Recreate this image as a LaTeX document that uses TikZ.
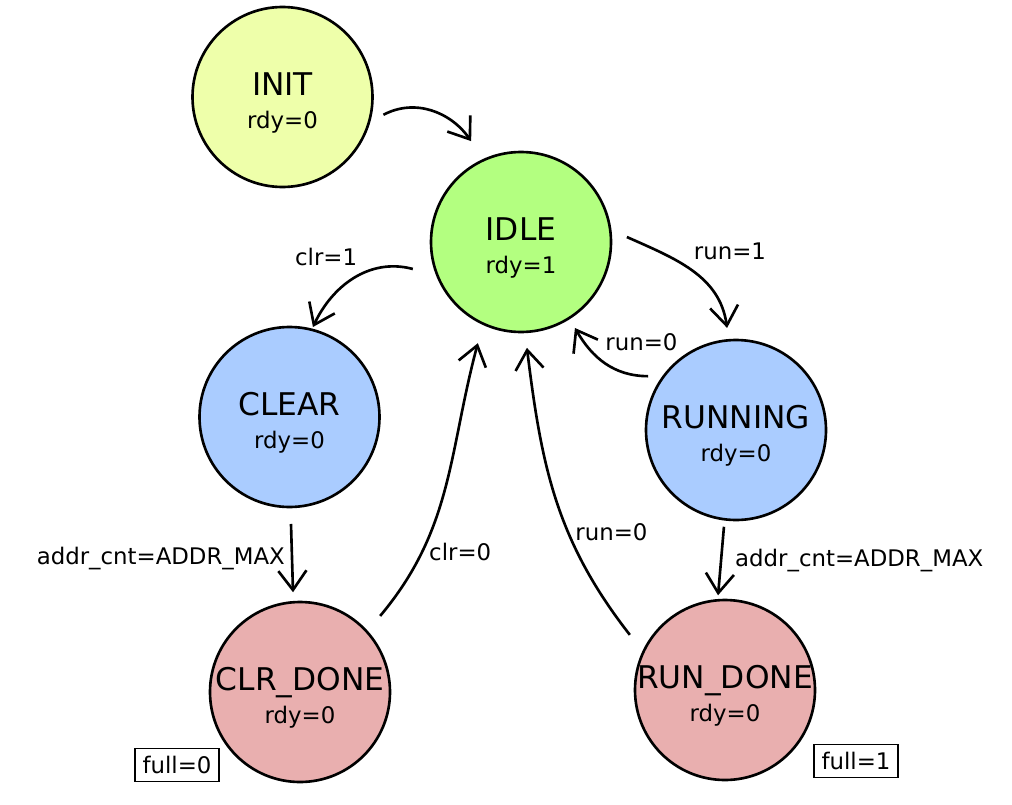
\documentclass[tikz,border=0pt]{standalone}
\usepackage{fontspec}
\setmainfont{DejaVu Sans}
\usetikzlibrary{arrows.meta}

\definecolor{initfill}{RGB}{238,255,170}
\definecolor{idlefill}{RGB}{179,255,128}
\definecolor{busyfill}{RGB}{170,204,255}
\definecolor{donefill}{RGB}{233,175,175}

% state name on top, output below
\newcommand{\stname}[2]{\rule{0pt}{19.5pt}\makebox[3cm]{\fontsize{17.8}{19}\selectfont #1}\\#2}

\begin{document}
\begin{tikzpicture}
[st/.style={circle,draw,line width=1.5pt,minimum size=3.6cm,inner sep=0pt,align=center,font=\fontsize{13}{18.5}\selectfont}
,tr/.style={draw=black,line width=1.5pt,arrows={-Straight Barb[length=11pt,width=16pt]}}
,lbl/.style={font=\fontsize{13}{15}\selectfont}
,flag/.style={draw,line width=0.6pt,font=\fontsize{13}{15}\selectfont,minimum width=1.68cm,minimum height=0.66cm,inner sep=2pt}]
\useasboundingbox (0,0) rectangle (20.24,-16.08);
\node[st,fill=initfill] (init) at (5.65,-1.94) {\stname{INIT}{rdy=0}};
\node[st,fill=idlefill] (idle) at (10.42,-4.84) {\stname{IDLE}{rdy=1}};
\node[st,fill=busyfill] (clear) at (5.79,-8.34) {\stname{CLEAR}{rdy=0}};
\node[st,fill=busyfill] (running) at (14.72,-8.60) {\stname{RUNNING}{rdy=0}};
\node[st,fill=donefill] (clrdone) at (6.00,-13.84) {\stname{CLR\_DONE}{rdy=0}};
\node[st,fill=donefill] (rundone) at (14.50,-13.80) {\stname{RUN\_DONE}{rdy=0}};
\node[flag] (fullclr) at (3.54,-15.30) {full=0};
\node[flag] (fullrun) at (17.12,-15.22) {full=1};
\draw[tr] ([shift={(-10:2.05)}]init.center) to[out=28,in=125] ([shift={(116.3:2.25)}]idle.center);
\draw[tr] ([shift={(194:2.23)}]idle.center) to[out=165,in=65] node[lbl,pos=0.4,above left]{clr=1} ([shift={(75.4:1.86)}]clear.center);
\draw[tr] ([shift={(2.7:2.12)}]idle.center) to[out=-24,in=98] node[lbl,pos=0.45,above right]{run=1} ([shift={(95:2.05)}]running.center);
\draw[tr] ([shift={(148.5:2.06)}]running.center) to[out=180,in=-60] node[lbl,pos=0.6,above right]{run=0} ([shift={(-57.9:2.03)}]idle.center);
\draw[tr] ([shift={(-89.2:2.14)}]clear.center) -- node[lbl,left]{addr\_cnt=ADDR\_MAX} ([shift={(94:2.0)}]clrdone.center);
\draw[tr] ([shift={(-97.1:1.95)}]running.center) -- node[lbl,right,xshift=4pt]{addr\_cnt=ADDR\_MAX} ([shift={(94.2:1.9)}]rundone.center);
\draw[tr] ([shift={(43.5:2.21)}]clrdone.center) to[out=50,in=255] node[lbl,pos=0.25,right]{clr=0} ([shift={(246.9:2.2)}]idle.center);
\draw[tr] ([shift={(149.9:2.2)}]rundone.center) to[out=128,in=-83] node[lbl,pos=0.38,right]{run=0} ([shift={(-86.8:2.12)}]idle.center);
\end{tikzpicture}
\end{document}
